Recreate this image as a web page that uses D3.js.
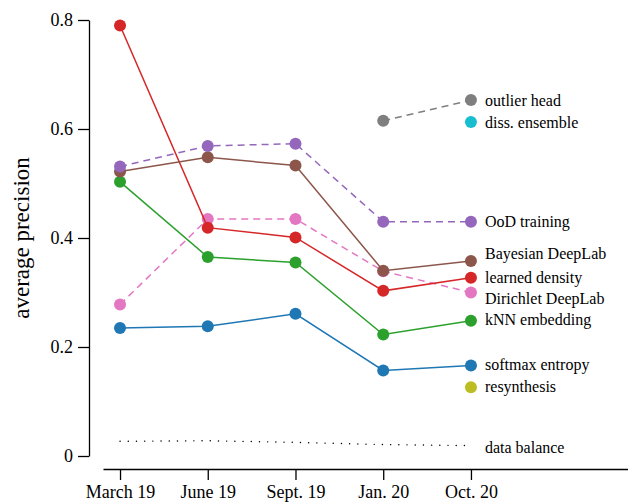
<!DOCTYPE html>
<html>
<head>
<meta charset="utf-8">
<script src="https://cdn.jsdelivr.net/npm/d3@7"></script>
<style>
  html, body { margin: 0; padding: 0; background: #fff; }
  svg { display: block; }
</style>
</head>
<body>
<svg id="chart" width="628" height="503"></svg>
<script>
// ---- data ----
const categories = ["March 19", "June 19", "Sept. 19", "Jan. 20", "Oct. 20"];
const yTicks = [0, 0.2, 0.4, 0.6, 0.8];
const yTickLabels = ["0", "0.2", "0.4", "0.6", "0.8"];

const methodNames = ["outlier head", "diss. ensemble", "OoD training", "Bayesian DeepLab",
  "learned density", "Dirichlet DeepLab", "kNN embedding", "softmax entropy", "resynthesis"];
const methodColors = ["#7f7f7f", "#17becf", "#9467bd", "#8c564b",
  "#d62728", "#e377c2", "#2ca02c", "#1f77b4", "#bcbd22"];
const methodDashed = [true, false, true, false, false, true, false, false, false];

const outlierHead      = [null, null, null, 0.615, 0.653];
const dissEnsemble     = [null, null, null, null, 0.613];
const oodTraining      = [0.531, 0.569, 0.573, 0.430, 0.430];
const bayesianDeepLab  = [0.522, 0.548, 0.533, 0.340, 0.358];
const learnedDensity   = [0.790, 0.419, 0.401, 0.303, 0.327];
const dirichletDeepLab = [0.278, 0.435, 0.435, 0.339, 0.300];
const knnEmbedding     = [0.503, 0.365, 0.355, 0.223, 0.248];
const softmaxEntropy   = [0.235, 0.238, 0.261, 0.157, 0.166];
const resynthesis      = [null, null, null, null, 0.126];
const methodValues = [outlierHead, dissEnsemble, oodTraining, bayesianDeepLab,
  learnedDensity, dirichletDeepLab, knnEmbedding, softmaxEntropy, resynthesis];
// label anchor values (data units), nudged apart where labels would collide
const labelValues = [0.653, 0.613, 0.430, 0.371, 0.328, 0.290, 0.251, 0.168, 0.127];

const dataBalance = [0.027, 0.028, 0.025, 0.021, 0.019];
const dataBalanceLabel = "data balance";
const dataBalanceLabelValue = 0.015;

// ---- layout ----
const FONT = "Liberation Serif";
const svg = d3.select("#chart").attr("font-family", FONT);
const x = d3.scaleLinear().domain([-0.194, 5.79]).range([103, 628]);
const y = d3.scaleLinear().domain([0, 0.8]).range([456, 20]);

// axes
const xAxis = d3.axisBottom(x)
  .tickValues(d3.range(categories.length))
  .tickFormat(i => categories[i])
  .tickSize(11).tickSizeOuter(0).tickPadding(5);
const gx = svg.append("g").attr("transform", "translate(0,469)").call(xAxis);

const yAxis = d3.axisLeft(y)
  .tickValues(yTicks)
  .tickFormat((d, i) => yTickLabels[i])
  .tickSize(11).tickSizeOuter(0).tickPadding(5);
const gy = svg.append("g").attr("transform", "translate(89,0)").call(yAxis);

[gx, gy].forEach(g => {
  g.attr("font-family", FONT).attr("font-size", 18);
  g.select(".domain").attr("stroke", "#000").attr("stroke-width", 1.3);
  g.selectAll(".tick line").attr("stroke", "#000").attr("stroke-width", 1.3);
  g.selectAll(".tick text").attr("fill", "#000").attr("font-family", FONT).attr("font-size", 18);
});

svg.append("text")
  .attr("transform", "translate(29,238) rotate(-90)")
  .attr("text-anchor", "middle")
  .attr("font-family", FONT)
  .attr("font-size", 23)
  .attr("fill", "#000")
  .text("average precision");

// data balance dotted line
const lineGen = d3.line()
  .defined(d => d.v != null)
  .x(d => x(d.i)).y(d => y(d.v));

svg.append("path")
  .datum(dataBalance.map((v, i) => ({ i, v })))
  .attr("d", lineGen)
  .attr("fill", "none")
  .attr("stroke", "#000")
  .attr("stroke-width", 1.4)
  .attr("stroke-linecap", "round")
  .attr("stroke-dasharray", "0.1,8.1");

// method lines (draw in reverse so top-listed ones are on top)
const order = d3.range(methodNames.length).reverse();
order.forEach(k => {
  const pts = methodValues[k].map((v, i) => ({ i, v })).filter(d => d.v != null);
  const g = svg.append("g");
  if (pts.length > 1) {
    g.append("path")
      .datum(pts)
      .attr("d", lineGen)
      .attr("fill", "none")
      .attr("stroke", methodColors[k])
      .attr("stroke-width", 1.5)
      .attr("stroke-dasharray", methodDashed[k] ? "7,5" : null);
  }
  g.selectAll("circle").data(pts).join("circle")
    .attr("cx", d => x(d.i)).attr("cy", d => y(d.v))
    .attr("r", 6)
    .attr("fill", methodColors[k]);
});

// labels
const lastX = x(categories.length - 1) + 14;
svg.selectAll("text.lbl").data(methodNames).join("text")
  .attr("class", "lbl")
  .attr("x", lastX)
  .attr("y", (d, k) => y(labelValues[k]))
  .attr("dy", "0.35em")
  .attr("font-family", FONT)
  .attr("font-size", 16)
  .attr("fill", "#000")
  .text(d => d);

svg.append("text")
  .attr("x", lastX)
  .attr("y", y(dataBalanceLabelValue))
  .attr("dy", "0.35em")
  .attr("font-family", FONT)
  .attr("font-size", 16)
  .attr("fill", "#000")
  .text(dataBalanceLabel);
</script>
</body>
</html>
